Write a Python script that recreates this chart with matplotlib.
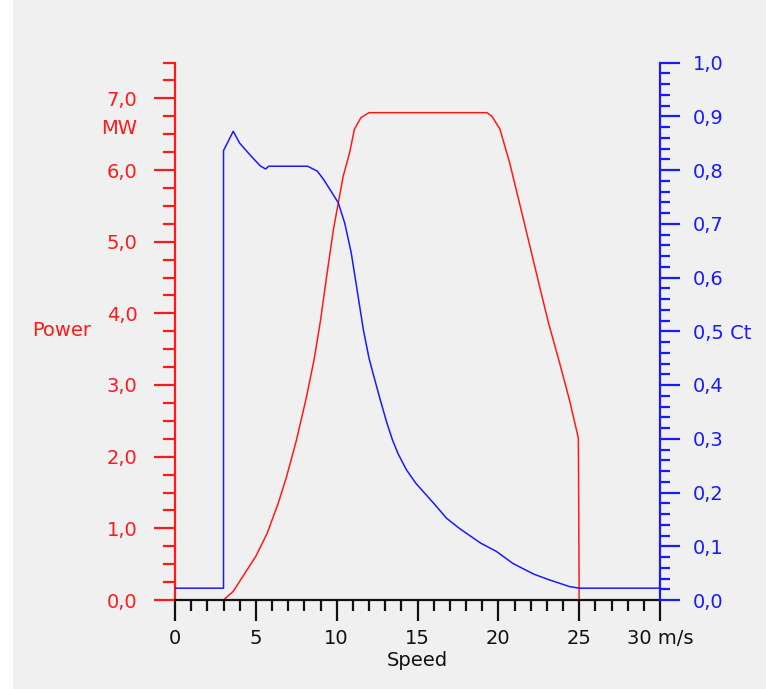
import matplotlib
matplotlib.use("Agg")
import matplotlib.pyplot as plt
from matplotlib.ticker import MultipleLocator, FixedLocator, FixedFormatter
from matplotlib.patches import Rectangle

# Curva de potencia (m/s -> MW)
speed_p = [3.0, 3.6, 4.4, 5.0, 5.7, 6.4, 6.9, 7.5, 8.1, 8.6, 9.0, 9.4, 9.8, 10.1, 10.4,
           10.8, 11.1, 11.5, 12.0, 19.3, 19.6, 20.1, 20.7, 21.35, 21.95, 22.6, 23.1,
           23.8, 24.4, 24.95, 25.0]
power = [0.0, 0.12, 0.40, 0.61, 0.93, 1.36, 1.72, 2.22, 2.80, 3.35, 3.90, 4.55, 5.17, 5.54, 5.91,
         6.24, 6.57, 6.73, 6.80, 6.80, 6.75, 6.57, 6.10, 5.50, 4.94, 4.33, 3.87,
         3.30, 2.79, 2.26, 0.0]

# Curva Ct
speed_ct = [0, 3.0, 3.0, 3.6, 4.0, 4.7, 5.3, 5.6, 5.8, 8.2, 8.8, 9.2, 9.6, 10.1, 10.5,
            10.9, 11.3, 11.65, 12.0, 12.3, 12.7, 13.1, 13.45, 13.8, 14.3, 14.9, 16.0, 16.8,
            17.6, 18.9, 19.9, 20.9, 22.2, 23.2, 24.4, 25.0, 30.0]
ct = [0.022, 0.022, 0.836, 0.872, 0.850, 0.826, 0.807, 0.802, 0.807, 0.807, 0.798,
      0.782, 0.763, 0.739, 0.701, 0.646, 0.570, 0.503, 0.450, 0.416, 0.372, 0.330,
      0.298, 0.272, 0.243, 0.217, 0.180, 0.152, 0.133, 0.106, 0.090, 0.068, 0.048, 0.037,
      0.025, 0.022, 0.022]

x_ticks = [0, 5, 10, 15, 20, 25, 30]
x_labels = ["0", "5", "10", "15", "20", "25", "30 m/s"]
p_ticks = [0, 1, 2, 3, 4, 5, 6, 7]
p_labels = ["0,0", "1,0", "2,0", "3,0", "4,0", "5,0", "6,0", "7,0"]
ct_ticks = [0.0, 0.1, 0.2, 0.3, 0.4, 0.5, 0.6, 0.7, 0.8, 0.9, 1.0]
ct_labels = ["0,0", "0,1", "0,2", "0,3", "0,4", "0,5 Ct", "0,6", "0,7", "0,8", "0,9", "1,0"]

plt.rcParams["font.family"] = "DejaVu Sans"
plt.rcParams["font.size"] = 14

fig = plt.figure(figsize=(7.66, 6.89), dpi=100, facecolor="#f0f0f0")
fig.patches.append(Rectangle((0, 0), 12 / 766, 1, transform=fig.transFigure,
                             color="white", zorder=-1))
ax = fig.add_axes([175 / 766, 1 - 600 / 689, 485 / 766, 537.5 / 689])
ax.set_facecolor("none")
ax2 = ax.twinx()

rojo = "#ff1a1a"
azul = "#1a1aff"

ax.plot(speed_p, power, color=rojo, lw=1.1)
ax2.plot(speed_ct, ct, color=azul, lw=1.1)

ax.set_xlim(0, 30)
ax.set_ylim(0, 7.5)
ax2.set_ylim(0, 1.0)

# Ejes y spines
for a in (ax, ax2):
    a.spines["top"].set_visible(False)
ax.spines["right"].set_visible(False)
ax2.spines["left"].set_visible(False)
ax2.spines["bottom"].set_visible(False)
ax.spines["left"].set_color(rojo)
ax.spines["left"].set_linewidth(1.6)
ax.spines["bottom"].set_color("#111111")
ax.spines["bottom"].set_linewidth(1.6)
ax2.spines["right"].set_color(azul)
ax2.spines["right"].set_linewidth(1.6)

ax.xaxis.set_major_locator(FixedLocator(x_ticks))
ax.xaxis.set_major_formatter(FixedFormatter(x_labels))
ax.xaxis.set_minor_locator(MultipleLocator(1))
ax.tick_params(axis="x", which="major", direction="out", length=15, width=1.6,
               color="#111111", pad=6, labelcolor="#111111")
ax.tick_params(axis="x", which="minor", direction="out", length=8, width=1.6,
               color="#111111")

ax.yaxis.set_major_locator(FixedLocator(p_ticks))
ax.yaxis.set_major_formatter(FixedFormatter(p_labels))
ax.yaxis.set_minor_locator(MultipleLocator(0.25))
ax.tick_params(axis="y", which="major", direction="out", length=15, width=1.6,
               color=rojo, labelcolor=rojo, pad=12)
ax.tick_params(axis="y", which="minor", direction="out", length=8.5, width=1.6,
               color=rojo)

ax2.yaxis.set_major_locator(FixedLocator(ct_ticks))
ax2.yaxis.set_major_formatter(FixedFormatter(ct_labels))
ax2.yaxis.set_minor_locator(MultipleLocator(0.02))
ax2.tick_params(axis="y", which="major", direction="out", length=14.5, width=1.6,
                color=azul, labelcolor=azul, pad=9)
ax2.tick_params(axis="y", which="minor", direction="out", length=7, width=1.6,
                color=azul)

ax.set_xlabel("Speed", color="#111111", labelpad=2)

fig.text(137 / 766, 1 - 128 / 689, "MW", color=rojo, ha="right", va="center")
fig.text(62 / 766, 1 - 331 / 689, "Power", color=rojo, ha="center", va="center")

fig.savefig("out.png", dpi=100, facecolor=fig.get_facecolor())
